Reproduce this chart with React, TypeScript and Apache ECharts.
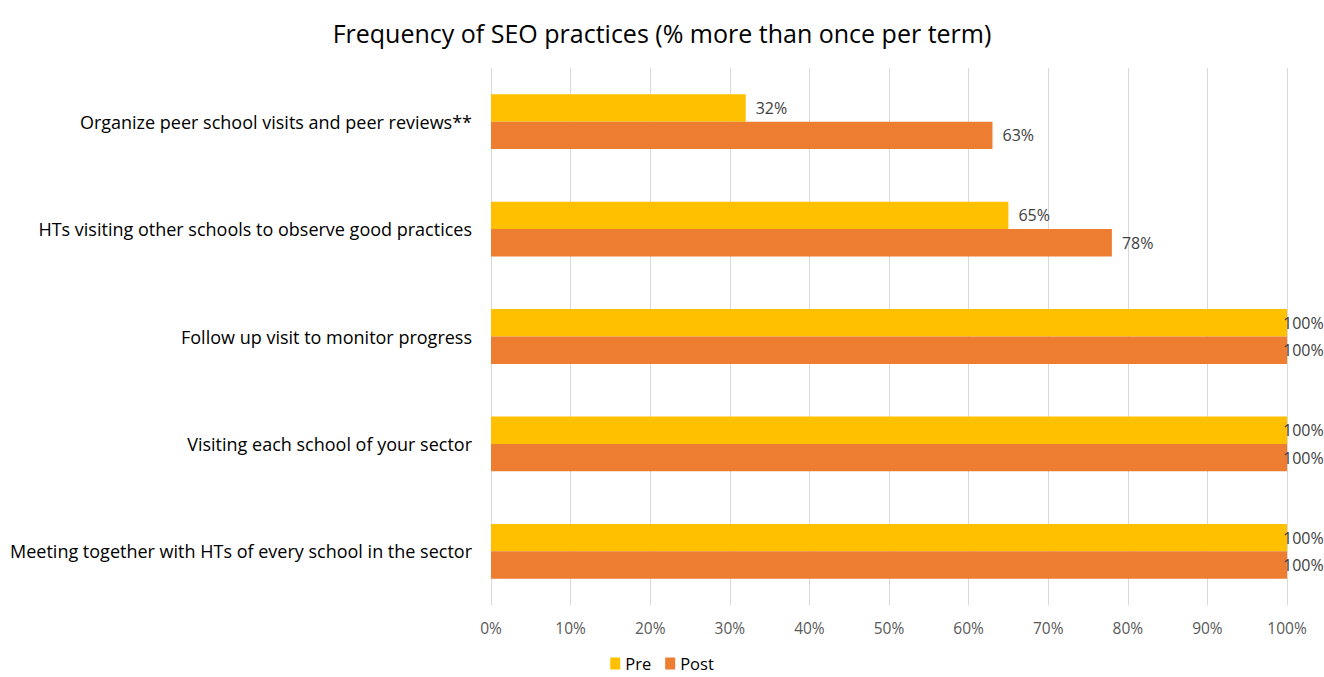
import React, { useEffect, useRef } from "react";
import * as echarts from "echarts";

const categories = [
  "Organize peer school visits and peer reviews**",
  "HTs visiting other schools to observe good practices",
  "Follow up visit to monitor progress",
  "Visiting each school of your sector",
  "Meeting together with HTs of every school in the sector",
];
const preValues = [32, 65, 100, 100, 100];
const postValues = [63, 78, 100, 100, 100];
const xTicks = [0, 10, 20, 30, 40, 50, 60, 70, 80, 90, 100];

const FONT = "'Open Sans', sans-serif";

function toData(values: number[]) {
  return values.map((v) => ({
    value: v,
    label: v >= 100 ? { distance: -4 } : { distance: 10 },
  }));
}

export default function App() {
  const ref = useRef<HTMLDivElement>(null);
  useEffect(() => {
    if (!ref.current) return;
    const chart = echarts.init(ref.current, undefined, { renderer: "svg" });
    chart.setOption({
      animation: false,
      title: {
        text: "Frequency of SEO practices (% more than once per term)",
        left: "center",
        top: 15,
        textStyle: { fontFamily: FONT, fontSize: 25, fontWeight: "normal", color: "#000" },
      },
      legend: {
        top: 655,
        left: "center",
        padding: 0,
        itemWidth: 10,
        itemHeight: 12,
        itemGap: 14,
        icon: "rect",
        textStyle: { fontFamily: FONT, fontSize: 16.5, color: "#000" },
        data: ["Pre", "Post"],
      },
      grid: { left: 491, right: 37, top: 68, bottom: 72, containLabel: false },
      xAxis: {
        type: "value",
        min: xTicks[0],
        max: xTicks[xTicks.length - 1],
        interval: 10,
        axisLine: { show: false },
        axisTick: { show: false },
        axisLabel: {
          formatter: "{value}%",
          fontFamily: FONT,
          fontSize: 15.5,
          color: "#595959",
          margin: 15,
        },
        splitLine: { show: true, lineStyle: { color: "#D9D9D9", width: 1 } },
      },
      yAxis: {
        type: "category",
        data: categories,
        inverse: true,
        axisLine: { show: false },
        axisTick: { show: false },
        axisLabel: { fontFamily: FONT, fontSize: 18, color: "#000", margin: 19 },
      },
      series: [
        {
          name: "Pre",
          type: "bar",
          data: toData(preValues),
          itemStyle: { color: "#FFC000" },
          barGap: "0%",
          barCategoryGap: "49%",
          label: {
            show: true,
            position: "right",
            formatter: "{c}%",
            fontFamily: FONT,
            fontSize: 16,
            color: "#404040",
          },
        },
        {
          name: "Post",
          type: "bar",
          data: toData(postValues),
          itemStyle: { color: "#ED7D31" },
          barGap: "0%",
          barCategoryGap: "49%",
          label: {
            show: true,
            position: "right",
            formatter: "{c}%",
            fontFamily: FONT,
            fontSize: 16,
            color: "#404040",
          },
        },
      ],
    });
    return () => chart.dispose();
  }, []);
  return (
    <div
      ref={ref}
      style={{ position: "fixed", left: 0, top: 0, width: 1324, height: 677, background: "#fff" }}
    />
  );
}
